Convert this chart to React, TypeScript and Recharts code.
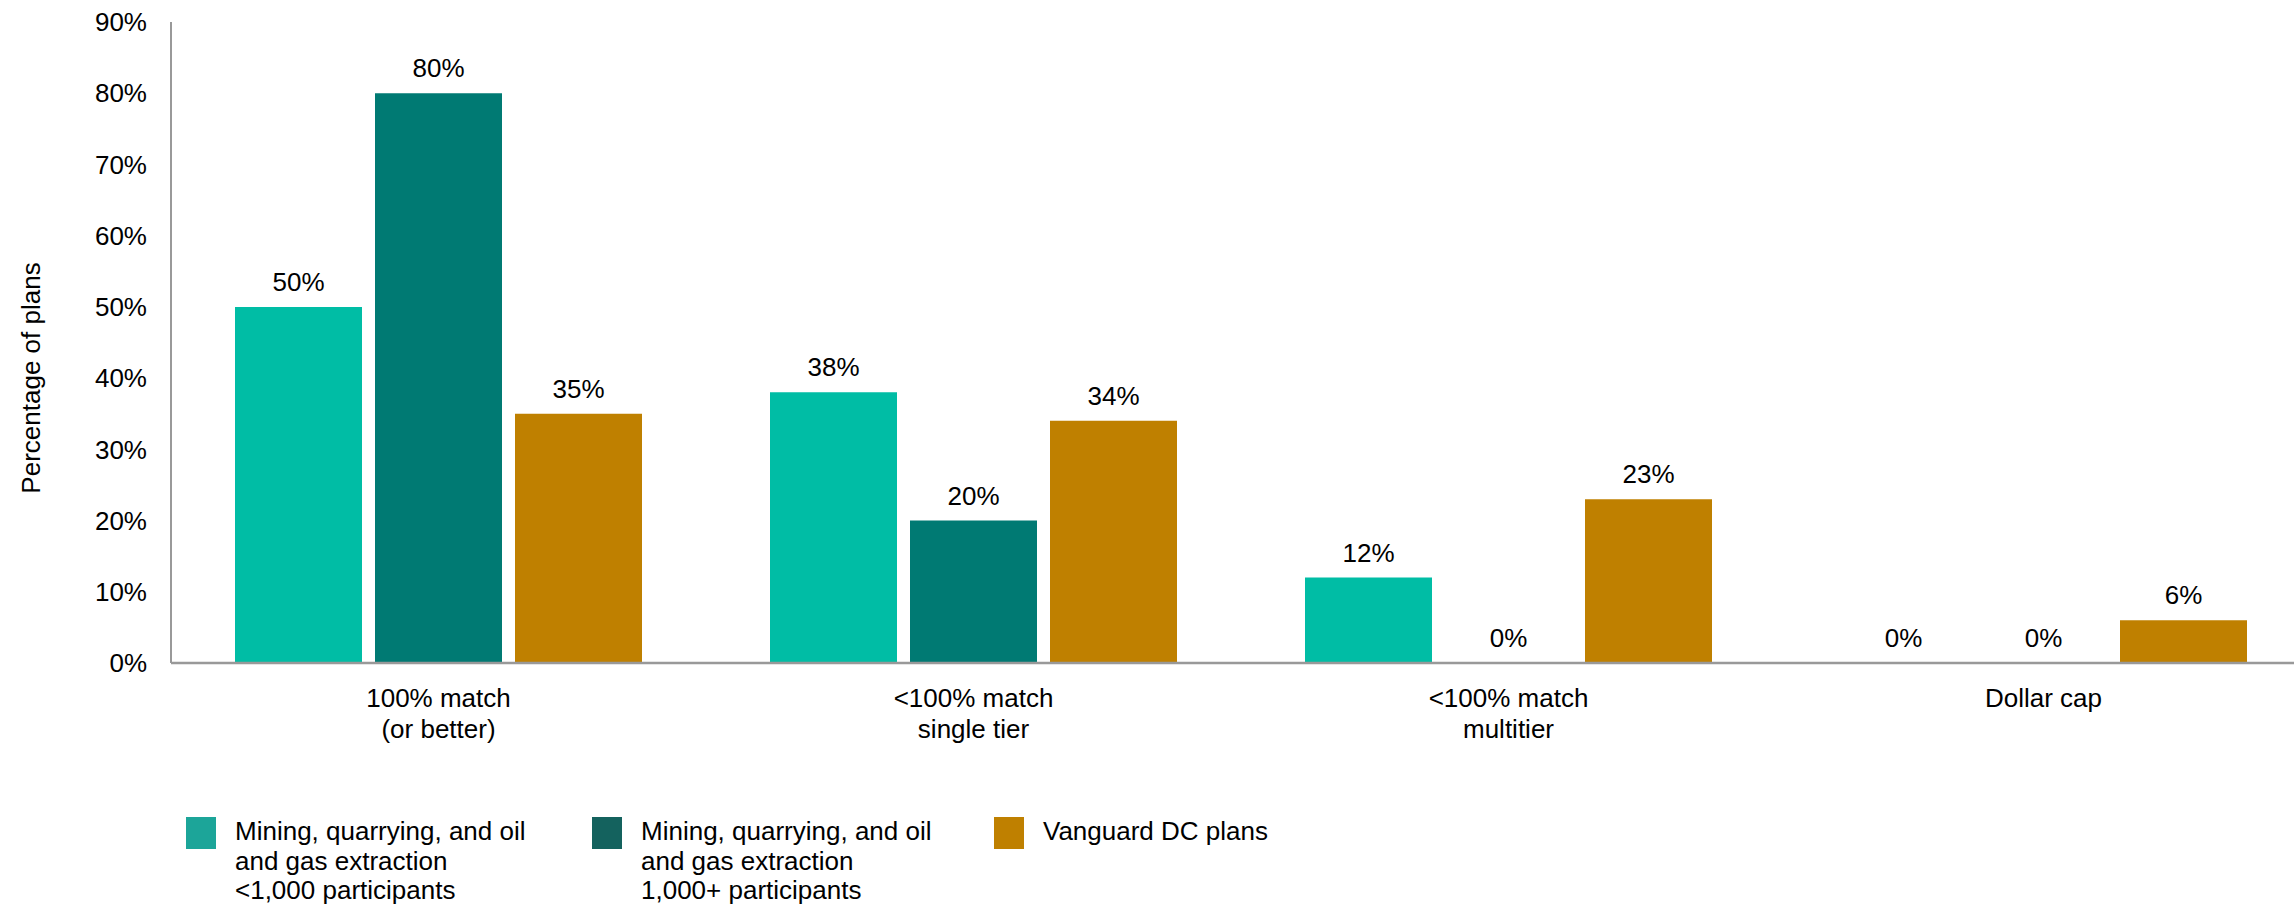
import React from "react";
import { BarChart, Bar, XAxis, YAxis, LabelList } from "recharts";

const categories = ["100% match\n(or better)", "<100% match\nsingle tier", "<100% match\nmultitier", "Dollar cap"];
const smallPlans = [50, 38, 12, 0];
const largePlans = [80, 20, 0, 0];
const vanguardPlans = [35, 34, 23, 6];
const yTicks = [0, 10, 20, 30, 40, 50, 60, 70, 80, 90];

const seriesNames = [
  "Mining, quarrying, and oil\nand gas extraction\n<1,000 participants",
  "Mining, quarrying, and oil\nand gas extraction\n1,000+ participants",
  "Vanguard DC plans",
];
const barColors = ["#00BDA5", "#007A73", "#BF8000"];
const legendColors = ["#1CA599", "#14625E", "#BF8000"];

const data = categories.map((name, i) => ({
  name,
  small: smallPlans[i],
  large: largePlans[i],
  vanguard: vanguardPlans[i],
}));

const FONT = "'Liberation Sans', Arial, Helvetica, sans-serif";

const XTick = (props: any) => {
  const { x, y, payload } = props;
  const lines = String(payload.value).split("\n");
  return (
    <text x={x} y={y} textAnchor="middle" fontSize={26} fill="#000" fontFamily={FONT}>
      {lines.map((l, i) => (
        <tspan key={i} x={x} dy={i === 0 ? 42 : 31}>
          {l}
        </tspan>
      ))}
    </text>
  );
};

const pct = (v: any) => `${v}%`;

export default function App() {
  return (
    <div
      style={{
        position: "absolute",
        left: 0,
        top: 0,
        width: 2294,
        height: 911,
        overflow: "hidden",
        background: "#fff",
        fontFamily: FONT,
      }}
    >
      <BarChart
        width={2320}
        height={911}
        data={data}
        margin={{ top: 22, right: 9, left: 0, bottom: 188 }}
        barCategoryGap={64}
        barGap={13}
      >
        <XAxis
          dataKey="name"
          interval={0}
          height={60}
          tickLine={false}
          tickSize={0}
          tick={<XTick />}
          axisLine={{ stroke: "#999", strokeWidth: 2.5 }}
        />
        <YAxis
          width={171}
          domain={[0, 90]}
          ticks={yTicks}
          tickFormatter={pct}
          tickLine={false}
          tickSize={0}
          tickMargin={24}
          axisLine={{ stroke: "#999", strokeWidth: 2 }}
          tick={{ fontSize: 26, fill: "#000", fontFamily: FONT }}
        />
        <Bar dataKey="small" fill={barColors[0]} minPointSize={0.01} isAnimationActive={false}>
          <LabelList dataKey="small" position="top" offset={16} formatter={pct} fontSize={26} fill="#000" fontFamily={FONT} />
        </Bar>
        <Bar dataKey="large" fill={barColors[1]} minPointSize={0.01} isAnimationActive={false}>
          <LabelList dataKey="large" position="top" offset={16} formatter={pct} fontSize={26} fill="#000" fontFamily={FONT} />
        </Bar>
        <Bar dataKey="vanguard" fill={barColors[2]} minPointSize={0.01} isAnimationActive={false}>
          <LabelList dataKey="vanguard" position="top" offset={16} formatter={pct} fontSize={26} fill="#000" fontFamily={FONT} />
        </Bar>
        <text transform="translate(40,378) rotate(-90)" textAnchor="middle" fontSize={26} fill="#000" fontFamily={FONT}>
          Percentage of plans
        </text>
      </BarChart>
      <div style={{ position: "absolute", left: 186, top: 817, display: "flex" }}>
        {seriesNames.map((n, i) => (
          <div key={i} style={{ display: "flex", width: i === 0 ? 406 : 402, alignItems: "flex-start" }}>
            <div style={{ width: 30, height: 32, background: legendColors[i], flex: "none" }} />
            <div
              style={{
                marginLeft: 19,
                fontSize: 26,
                lineHeight: "29.5px",
                color: "#000",
                whiteSpace: "pre",
              }}
            >
              {n}
            </div>
          </div>
        ))}
      </div>
    </div>
  );
}
